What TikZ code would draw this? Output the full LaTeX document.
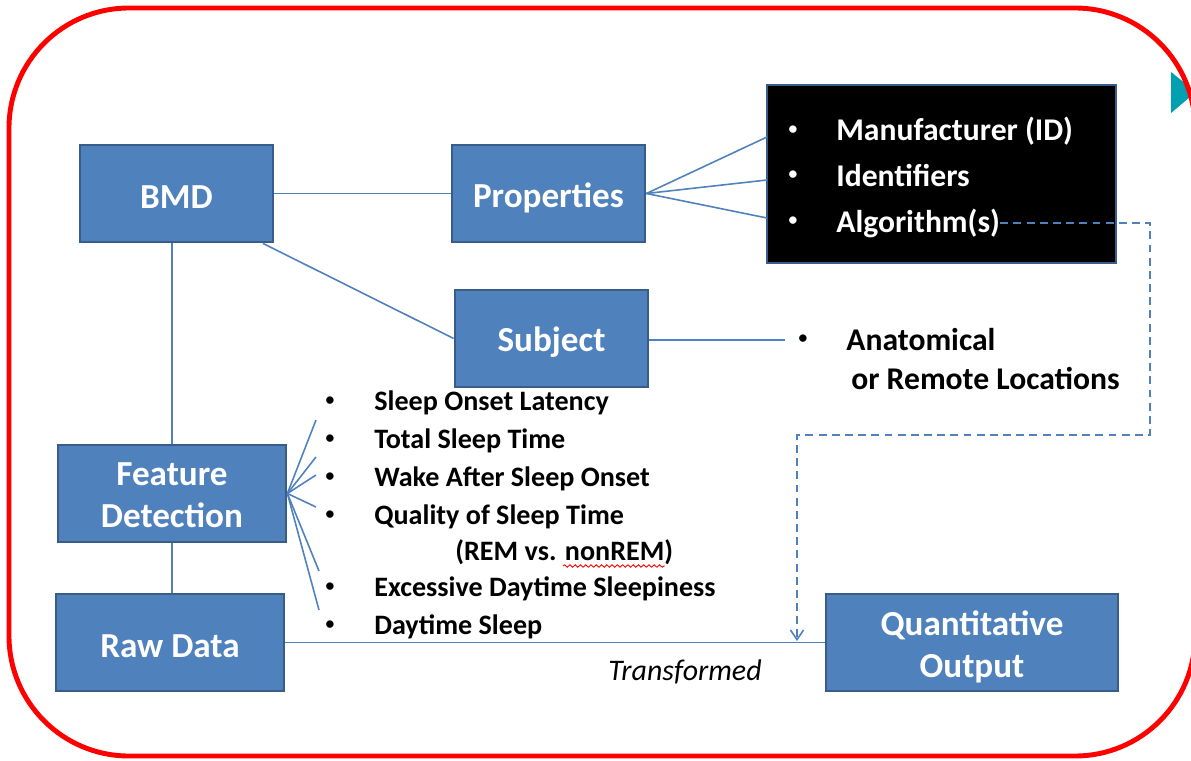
\documentclass[tikz,border=0pt]{standalone}
\usepackage{fontspec}
\setmainfont{Carlito}
\usetikzlibrary{arrows.meta,decorations.pathmorphing}

\definecolor{boxblue}{RGB}{79,129,189}
\definecolor{boxedge}{RGB}{56,93,138}
\definecolor{linkblue}{RGB}{79,129,189}
\definecolor{tealmark}{RGB}{0,160,176}

\newcommand{\shiftdown}[2][2.3pt]{\raisebox{-#1}[\height][\depth]{#2}}

\tikzset{
    block/.style={draw=boxedge,line width=1.6pt,fill=boxblue,text=white,
        font=\bfseries\fontsize{20}{24}\selectfont,align=center,inner sep=0pt,
        minimum height=1.94cm},
    link/.style={draw=linkblue,line width=0.9pt},
    dashlink/.style={draw=linkblue,line width=0.9pt,dash pattern=on 4.5pt off 3pt},
    item/.style={anchor=base west,inner sep=0pt,font=\bfseries\fontsize{16}{19}\selectfont},
    dot/.style={anchor=center,inner sep=0pt,font=\bfseries\fontsize{10}{12}\selectfont},
    bigitem/.style={item,font=\bfseries\fontsize{18}{21}\selectfont},
}

\begin{document}
\begin{tikzpicture}[x=0.02cm,y=-0.02cm]
    \useasboundingbox (0,0) rectangle (1191,761);

    % 右上角标记
    \fill[tealmark] (1171,72) -- (1196,92) -- (1171,113) -- cycle;

    % 外框
    \draw[red,line width=2.8pt,rounded corners=2.4cm] (9,8) rectangle (1195,756);

    % 方框
    \node[block,minimum width=3.86cm] (bmd) at (176.5,193.5) {\shiftdown{BMD}};
    \node[block,minimum width=3.86cm] (props) at (548.5,193.5) {\shiftdown{Properties}};
    \node[block,minimum width=3.86cm] (subj) at (551.5,338.5) {\shiftdown{Subject}};
    \node[block,minimum width=4.56cm] (fd) at (172,493.5)
        {\shiftdown[1.2pt]{Feature}\\\shiftdown[1.2pt]{Detection}};
    \node[block,minimum width=4.56cm] (raw) at (170,642.5) {\shiftdown{Raw Data}};
    \node[block,minimum width=5.84cm] (quant) at (972,642.5)
        {\shiftdown{Quantitative}\\\shiftdown{Output}};
    \node[draw=boxedge,line width=1.6pt,fill=black,minimum width=6.98cm,
        minimum height=3.56cm] (blk) at (941.5,174) {};

    % 属性列表
    \node[dot,text=white] (b1) at (793,130) {•};
    \node[bigitem,text=white] (mfr) at (836,140) {Manufacturer (ID)};
    \node[dot,text=white] (b2) at (793,175) {•};
    \node[bigitem,text=white] (ids) at (836,186) {Identifiers};
    \node[dot,text=white] (b3) at (793,221) {•};
    \node[bigitem,text=white] (alg) at (836,232) {Algorithm(s)};

    % 位置
    \node[dot] (b4) at (803,339) {•};
    \node[bigitem] (anat) at (846,350) {Anatomical};
    \node[bigitem] (remote) at (851,389) {or Remote Locations};

    % 特征列表
    \node[dot] (c1) at (330,401) {•};
    \node[item] (sol) at (374,410) {Sleep Onset Latency};
    \node[dot] (c2) at (330,439) {•};
    \node[item] (tst) at (374,448) {Total Sleep Time};
    \node[dot] (c3) at (330,477) {•};
    \node[item] (waso) at (374,486) {Wake After Sleep Onset};
    \node[dot] (c4) at (330,515) {•};
    \node[item] (qst) at (374,524) {Quality of Sleep Time};
    \node[item] (rem) at (455,560) {(REM vs. nonREM)};
    \node[dot] (c5) at (330,587) {•};
    \node[item] (eds) at (374,596) {Excessive Daytime Sleepiness};
    \node[dot] (c6) at (330,625) {•};
    \node[item] (ds) at (374,634) {Daytime Sleep};
    \draw[red,line width=0.5pt,decorate,
        decoration={snake,amplitude=0.7pt,segment length=3pt}] (563,566) -- (665,566);

    \node[anchor=base west,inner sep=0pt,font=\itshape\fontsize{17}{20}\selectfont]
        (trans) at (608,680) {Transformed};

    % 连线
    \draw[link] (bmd) -- (props);
    \draw[link] (bmd.-30) -- (subj.west);
    \draw[link] (fd.north) -- (fd.north |- bmd.south);
    \draw[link] (fd.south) -- (fd.south |- raw.north);
    \draw[link] (raw) -- (quant);

    % 属性分叉
    \coordinate (k1) at (767,137);
    \coordinate (k2) at (767,180);
    \coordinate (k3) at (767,218);
    \draw[link] (props.east) -- (k1);
    \draw[link] (props.east) -- (k2);
    \draw[link] (props.east) -- (k3);

    \coordinate (s0) at (785,340);
    \draw[link] (subj.east |- s0) -- (s0);

    % 特征分叉
    \coordinate (f1) at (316,420);
    \coordinate (f2) at (316,457);
    \coordinate (f3) at (316,475);
    \coordinate (f4) at (316,507);
    \coordinate (f5) at (319,571);
    \coordinate (f6) at (319,610);
    \draw[link] (fd.east) -- (f1);
    \draw[link] (fd.east) -- (f2);
    \draw[link] (fd.east) -- (f3);
    \draw[link] (fd.east) -- (f4);
    \draw[link] (fd.east) -- (f5);
    \draw[link] (fd.east) -- (f6);

    % 算法虚线
    \coordinate (d1) at (1150,435);
    \coordinate (tgt) at (797,641);
    \draw[dashlink,-{Straight Barb[length=5.5pt,width=7.5pt]}]
        (alg.east) -| (d1) -| (tgt);
\end{tikzpicture}
\end{document}
